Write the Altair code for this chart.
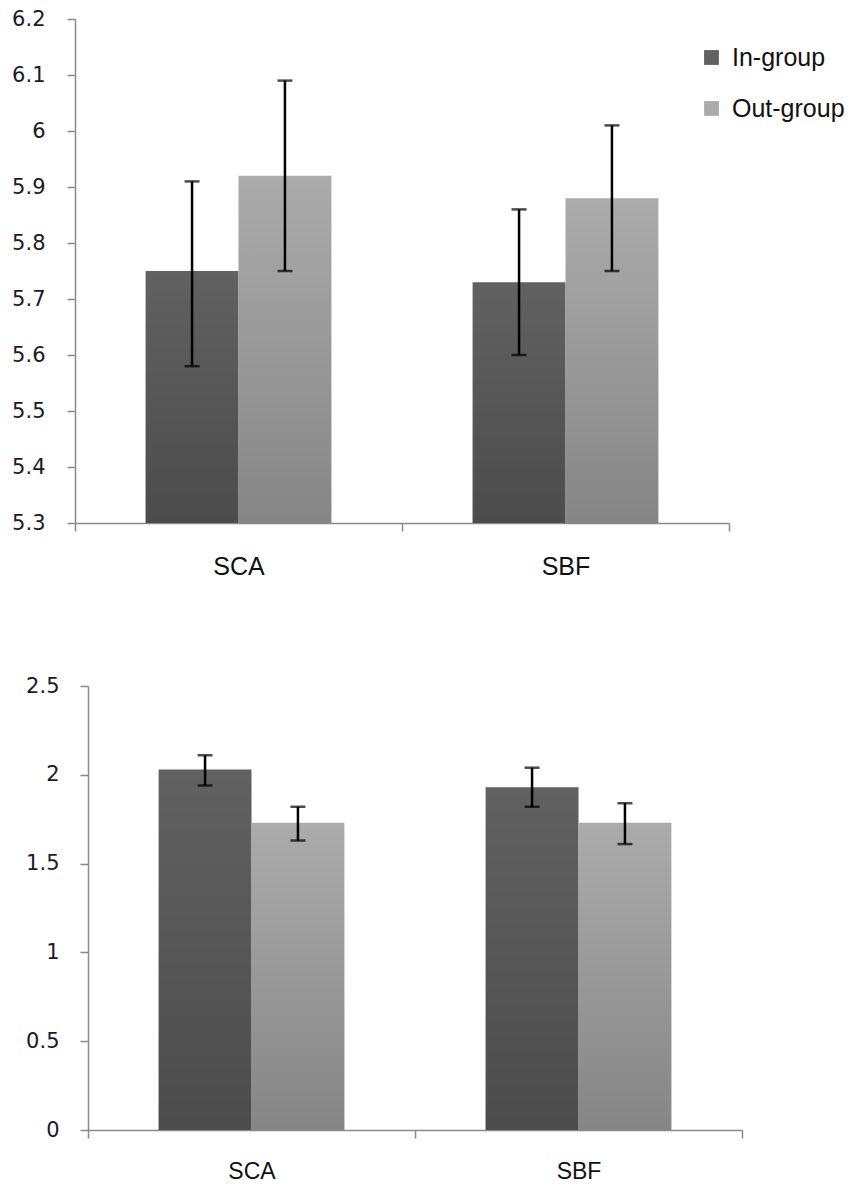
import altair as alt
import pandas as pd

categories = ["SCA", "SBF"]
groups = ["In-group", "Out-group"]

# Top panel (means and error bar ends)
top_in_mean = [5.75, 5.73]
top_out_mean = [5.92, 5.88]
top_in_lo = [5.58, 5.60]
top_in_hi = [5.91, 5.86]
top_out_lo = [5.75, 5.75]
top_out_hi = [6.09, 6.01]
top_ticks = [5.3, 5.4, 5.5, 5.6, 5.7, 5.8, 5.9, 6.0, 6.1, 6.2]

# Bottom panel
bot_in_mean = [2.03, 1.93]
bot_out_mean = [1.73, 1.73]
bot_in_lo = [1.94, 1.82]
bot_in_hi = [2.11, 2.04]
bot_out_lo = [1.63, 1.61]
bot_out_hi = [1.82, 1.84]
bot_ticks = [0, 0.5, 1, 1.5, 2, 2.5]


def frame(in_mean, out_mean, in_lo, in_hi, out_lo, out_hi):
    rows = []
    for i, c in enumerate(categories):
        rows.append({"cat": c, "group": groups[0], "mean": in_mean[i], "lo": in_lo[i], "hi": in_hi[i]})
        rows.append({"cat": c, "group": groups[1], "mean": out_mean[i], "lo": out_lo[i], "hi": out_hi[i]})
    return pd.DataFrame(rows)


AXIS_GREY = "#8a8a8a"
LABEL_FONT = "DejaVu Sans"
TEXT_FONT = "Liberation Sans"
PLOT_W = 654


def panel(df, ymin, ymax, ticks, height, show_legend, label_pad, shift, xfont, xpad):
    x = alt.X(
        "cat:N",
        sort=categories,
        scale=alt.Scale(paddingInner=0, paddingOuter=0, range=[shift, shift + PLOT_W]),
        axis=alt.Axis(
            title=None,
            labelAngle=0,
            tickBand="extent",
            tickSize=8,
            tickColor=AXIS_GREY,
            tickWidth=1.5,
            domainColor=AXIS_GREY,
            domainWidth=1.5,
            labelFont=TEXT_FONT,
            labelFontSize=xfont,
            labelColor="#111",
            labelPadding=xpad,
        ),
    )
    xo = alt.XOffset("group:N", sort=groups, scale=alt.Scale(paddingInner=0, paddingOuter=0.76))
    y = alt.Y(
        "mean:Q",
        scale=alt.Scale(domain=[ymin, ymax], zero=False, nice=False),
        axis=alt.Axis(
            title=None,
            values=ticks,
            format="~g",
            grid=False,
            tickSize=8,
            tickColor=AXIS_GREY,
            tickWidth=1.5,
            domainColor=AXIS_GREY,
            domainWidth=1.5,
            labelFont=LABEL_FONT,
            labelFontSize=21,
            labelColor="#1a1a2a",
            labelPadding=label_pad,
            offset=-shift,
        ),
    )
    color_kwargs = dict(sort=groups, scale=alt.Scale(domain=groups, range=["#616161", "#ababab"]))
    if show_legend:
        legend = alt.Legend(
            title=None,
            orient="none",
            legendX=624,
            legendY=26,
            symbolType="square",
            symbolSize=220,
            symbolStrokeWidth=0,
            labelFont=TEXT_FONT,
            labelFontSize=25,
            labelColor="#111",
            labelOffset=8,
            rowPadding=25,
        )
        color = alt.Color("group:N", legend=legend, **color_kwargs)
    else:
        color = alt.Color("group:N", legend=None, **color_kwargs)

    base = alt.Chart(df)
    bars = base.mark_bar().encode(x=x, xOffset=xo, y=y, y2=alt.datum(ymin), color=color)
    shade = base.mark_bar(
        color=alt.Gradient(
            gradient="linear",
            stops=[
                alt.GradientStop(color="rgba(0,0,0,0)", offset=0),
                alt.GradientStop(color="rgba(0,0,0,0.22)", offset=1),
            ],
            x1=0, x2=0, y1=0, y2=1,
        )
    ).encode(x=x, xOffset=xo, y=y, y2=alt.datum(ymin))
    rule = base.mark_rule(color="black", strokeWidth=2.5).encode(
        x=x, xOffset=xo, y="lo:Q", y2="hi:Q"
    )
    cap_hi = base.mark_tick(color="black", thickness=2.5, size=15).encode(x=x, xOffset=xo, y="hi:Q")
    cap_lo = base.mark_tick(color="black", thickness=2.5, size=15).encode(x=x, xOffset=xo, y="lo:Q")
    return alt.layer(bars, shade, rule, cap_hi, cap_lo).properties(width=PLOT_W + shift, height=height)


top = panel(frame(top_in_mean, top_out_mean, top_in_lo, top_in_hi, top_out_lo, top_out_hi),
            5.3, 6.2, top_ticks, 504, True, 22, 0, 25, 23)
bottom = panel(frame(bot_in_mean, bot_out_mean, bot_in_lo, bot_in_hi, bot_out_lo, bot_out_hi),
               0, 2.5, bot_ticks, 444, False, 21, 13, 23, 22)

chart = (
    alt.concat(top, bottom, columns=1, spacing=96)
    .properties(padding={"left": 3, "top": 0, "right": 0, "bottom": 0})
    .configure_view(stroke=None)
    .configure_tick(bandSize=15)
)

chart.save("out.html", embed_options={"renderer": "svg", "actions": False})
